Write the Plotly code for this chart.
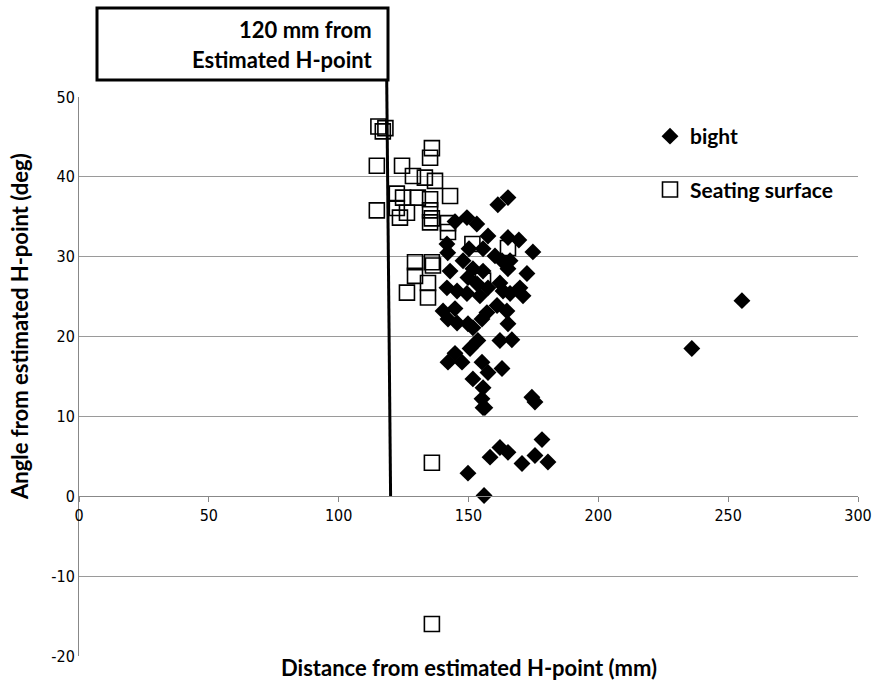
import plotly.graph_objects as go

# Bight (filled diamonds)
bight_x = [161.3, 165.2, 149.4, 144.8, 153.2, 157.5, 165.2, 169.4, 174.8, 150.2,
           155.6, 141.7, 142.0, 160.2, 166.0, 162.9, 147.9, 142.9, 151.7, 155.6,
           165.2, 172.5, 149.8, 141.7, 145.6, 153.3, 157.5, 162.1, 163.3, 169.8,
           149.4, 154.4, 166.0, 171.0,
           140.2, 144.8, 142.1, 145.6, 149.8, 151.7, 155.2, 157.1, 161.0, 164.8,
           165.2, 162.1, 166.7, 153.6, 150.6, 144.8, 142.1, 147.5, 155.2, 157.5,
           162.9, 151.7, 155.6, 155.2, 155.6, 174.4, 175.6,
           156.3, 178.3, 162.1, 165.2, 158.3, 170.6, 175.6, 180.6, 149.8, 156.0,
           255.3, 236.0]
bight_y = [36.5, 37.4, 34.9, 34.4, 34.1, 32.6, 32.4, 32.1, 30.6, 31.0,
           31.0, 31.6, 30.5, 30.1, 29.5, 29.5, 29.5, 28.2, 28.5, 28.2,
           28.5, 27.9, 27.4, 26.1, 25.7, 26.6, 26.1, 26.7, 25.7, 26.1,
           25.4, 25.1, 25.4, 25.1,
           23.2, 23.5, 22.2, 21.7, 21.6, 21.1, 22.2, 23.0, 23.9, 23.2,
           21.6, 19.5, 19.6, 19.5, 18.5, 17.9, 16.8, 16.8, 16.8, 15.5,
           16.0, 14.7, 13.6, 12.2, 11.1, 12.4, 11.8,
           11.1, 7.1, 6.1, 5.5, 4.9, 4.1, 5.1, 4.3, 2.9, 0.1,
           24.5, 18.5]

# Seating surface (open squares)
seat_x = [115.3, 118.0, 117.0, 135.9, 135.2, 114.7, 124.4, 128.6, 133.2, 137.1,
          122.4, 124.8, 130.5, 135.2, 142.9, 114.7, 122.4, 126.3, 135.2, 135.9,
          123.6, 135.2, 142.1, 142.1, 129.4, 135.9, 136.3, 129.4, 134.4, 126.3,
          134.4, 151.5, 165.2, 155.6, 135.9, 135.9]
seat_y = [46.3, 46.1, 45.7, 43.6, 42.4, 41.4, 41.4, 40.1, 39.9, 39.5,
          37.9, 37.4, 37.4, 37.2, 37.6, 35.8, 36.1, 35.5, 35.8, 34.8,
          34.9, 34.3, 34.2, 33.1, 29.3, 29.3, 28.9, 27.6, 26.7, 25.5,
          24.9, 31.6, 31.1, 27.0, 4.2, -16.0]

x_ticks = [0, 50, 100, 150, 200, 250, 300]
y_ticks = [-20, -10, 0, 10, 20, 30, 40, 50]

TXT = "Lato, 'Open Sans', sans-serif"
TICK = "'DejaVu Sans Condensed', Lato, sans-serif"

fig = go.Figure()
fig.add_trace(go.Scatter(
    x=seat_x, y=seat_y, mode="markers", name="<b>Seating surface</b>",
    legendgroup="b", legendrank=2,
    marker=dict(symbol="square-open", size=15, color="black", line=dict(width=1.6, color="black")),
))
fig.add_trace(go.Scatter(
    x=bight_x, y=bight_y, mode="markers", name="<b>bight</b>",
    legendgroup="a", legendrank=1,
    marker=dict(symbol="diamond", size=13, color="black", line=dict(width=0)),
))

X0, X1, Y0, Y1 = 79, 858, 97, 656
W, H = X1 - X0, Y1 - Y0
def px(x):
    return (x - X0) / W
def py(y):
    return (Y1 - y) / H

fig.update_layout(
    width=875, height=687,
    margin=dict(l=X0, r=875 - X1, t=Y0, b=687 - Y1, pad=0),
    paper_bgcolor="white", plot_bgcolor="white",
    showlegend=True,
    legend=dict(x=px(650), y=py(116), xanchor="left", yanchor="top",
                font=dict(family=TXT, size=21, color="black"),
                traceorder="grouped", tracegroupgap=23,
                bgcolor="rgba(0,0,0,0)", itemwidth=30),
    xaxis=dict(range=[0, 300], tickvals=x_ticks, ticktext=[str(v) for v in x_ticks],
               anchor="free", position=py(496), showgrid=False, zeroline=False,
               showline=True, linecolor="#888", linewidth=1,
               ticks="outside", ticklen=5, tickcolor="#888", automargin=False,
               tickfont=dict(family=TICK, size=16, color="black")),
    yaxis=dict(range=[-20, 50], tickvals=y_ticks, ticktext=[str(v) for v in y_ticks],
               showgrid=True, gridcolor="#9a9a9a", gridwidth=1, zeroline=False,
               showline=True, linecolor="#888", linewidth=1, automargin=False,
               ticks="", tickfont=dict(family=TICK, size=16, color="black")),
    shapes=[
        dict(type="rect", xref="paper", yref="paper",
             x0=px(97), x1=px(388), y0=py(80), y1=py(8),
             line=dict(color="black", width=3), fillcolor="white", layer="above"),
        dict(type="line", xref="x", yref="paper", x0=118.5, x1=120, y0=py(80), y1=py(496),
             line=dict(color="black", width=3), layer="above"),
    ],
    annotations=[
        dict(text="<b>120 mm from</b>", xref="paper", yref="paper", x=px(374), y=py(29),
             xanchor="right", yanchor="middle", showarrow=False,
             font=dict(family=TXT, size=22, color="black")),
        dict(text="<b>Estimated H-point</b>", xref="paper", yref="paper", x=px(375), y=py(59),
             xanchor="right", yanchor="middle", showarrow=False,
             font=dict(family=TXT, size=22, color="black")),
        dict(text="<b>Distance from estimated H-point (mm)</b>", xref="paper", yref="paper",
             x=px(469), y=py(667), xanchor="center", yanchor="middle", showarrow=False,
             font=dict(family=TXT, size=22, color="black")),
        dict(text="<b>Angle from estimated H-point (deg)</b>", xref="paper", yref="paper",
             x=px(19), y=py(327), xanchor="center", yanchor="middle", showarrow=False,
             textangle=-90, font=dict(family=TXT, size=22, color="black")),
    ],
)

fig.write_html("out.html", config={"displayModeBar": False},
               post_script="document.body.style.margin='0';")
